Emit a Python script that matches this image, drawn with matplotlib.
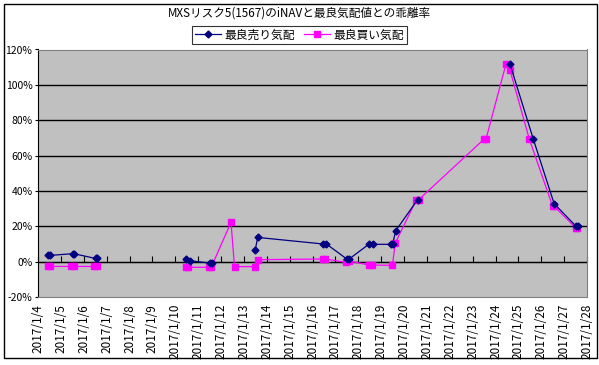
import matplotlib
matplotlib.use("Agg")
import matplotlib.pyplot as plt
import matplotlib.dates as mdates
import numpy as np
import pandas as pd
from matplotlib.patches import Rectangle

plt.rcParams['font.family'] = ['Noto Sans CJK JP', 'DejaVu Sans']

TITLE = "MXSリスク5(1567)のiNAVと最良気配値との乖離率"
SELL_LABEL = "最良売り気配"
BUY_LABEL = "最良買い気配"

# best ask (sell) deviation, %; None = no quote (line break)
sell_times = [
    "2017-01-04 10:50", "2017-01-04 12:20", "2017-01-05 12:20", "2017-01-05 13:40",
    "2017-01-06 12:20", "2017-01-06 13:40", None,
    "2017-01-10 10:50", "2017-01-10 15:30", "2017-01-11 12:00", "2017-01-11 15:00", None,
    "2017-01-13 12:00", "2017-01-13 14:30", "2017-01-16 11:00", "2017-01-16 14:30",
    "2017-01-17 12:00", "2017-01-17 14:30", "2017-01-18 11:00", "2017-01-18 15:00",
    "2017-01-19 10:10", "2017-01-19 12:00", "2017-01-19 15:20", "2017-01-20 14:10", None,
    "2017-01-24 15:10", "2017-01-25 15:40", "2017-01-26 13:30",
    "2017-01-27 12:00", "2017-01-27 14:30",
]
sell_values = [
    3.5, 3.5, 4.5, 4.5,
    1.8, 1.8, None,
    1.7, 0.5, -0.8, -0.8, None,
    6.8, 13.7, 10.0, 10.0,
    1.5, 1.5, 9.8, 9.8,
    9.8, 9.8, 17.5, 35.0, None,
    111.8, 69.3, 32.8,
    20.3, 20.3,
]

# best bid (buy) deviation, %
buy_times = [
    "2017-01-04 10:50", "2017-01-04 13:00", "2017-01-05 10:50", "2017-01-05 13:30",
    "2017-01-06 10:50", "2017-01-06 13:30", None,
    "2017-01-10 10:50", "2017-01-10 13:30", "2017-01-11 11:00", "2017-01-11 13:40",
    "2017-01-12 10:30", "2017-01-12 14:10", "2017-01-13 11:50", "2017-01-13 14:40",
    "2017-01-16 11:00", "2017-01-16 13:30", "2017-01-17 11:30", "2017-01-17 14:00",
    "2017-01-18 11:00", "2017-01-18 14:00", "2017-01-19 11:50", "2017-01-19 14:50",
    "2017-01-20 13:00", "2017-01-20 15:20", "2017-01-23 12:00", "2017-01-23 14:00",
    "2017-01-24 11:00", "2017-01-24 15:10", "2017-01-25 11:30",
    "2017-01-26 12:00", "2017-01-26 13:40", "2017-01-27 12:30", "2017-01-27 14:00",
]
buy_values = [
    -2.7, -2.7, -2.7, -2.7,
    -2.7, -2.7, None,
    -3.2, -3.2, -3.2, -3.2,
    22.2, -2.8, -2.8, 1.1,
    1.5, 1.5, -0.4, 0.4,
    -1.9, -1.9, -2.1, 10.5,
    35.0, 35.0, 69.3, 69.3,
    111.8, 108.4, 69.3,
    31.2, 31.2, 19.0, 19.0,
]

y_ticks = [-20, 0, 20, 40, 60, 80, 100, 120]
x_start, x_end = "2017-01-04", "2017-01-28"


def to_series(times, values):
    x = [mdates.date2num(pd.Timestamp(t).to_pydatetime()) if t else np.nan for t in times]
    y = [np.nan if v is None else v for v in values]
    return np.array(x, dtype=float), np.array(y, dtype=float)


fig = plt.figure(figsize=(5.99, 3.65), dpi=100)
fig.patches.append(Rectangle((4 / 599, 1 - 358 / 365), 593 / 599, 354 / 365,
                             transform=fig.transFigure, fill=False,
                             edgecolor="black", linewidth=1.0))

ax = fig.add_axes([38 / 599, 1 - 297 / 365, 549 / 599, 247.5 / 365])
ax.set_facecolor("#C0C0C0")

for y in y_ticks[1:-1]:
    ax.axhline(y, color="black", linewidth=1.0, zorder=1)

sx, sy = to_series(sell_times, sell_values)
bx, by = to_series(buy_times, buy_values)
ax.plot(sx, sy, color="#000080", linewidth=0.9, marker="D", markersize=3.5,
        label=SELL_LABEL, zorder=3)
ax.plot(bx, by, color="#FF00FF", linewidth=0.9, marker="s", markersize=4.5,
        label=BUY_LABEL, zorder=2)

days = pd.date_range(x_start, x_end, freq="D")
day_nums = [mdates.date2num(d.to_pydatetime()) for d in days]
ax.set_xlim(day_nums[0], day_nums[-1])
ax.set_ylim(-20, 120)
ax.set_yticks(y_ticks)
ax.set_yticklabels([f"{v}%" for v in y_ticks], fontsize=7.5)
ax.set_xticks(day_nums)
ax.set_xticklabels([f"{d.year}/{d.month}/{d.day}" for d in days],
                   rotation=90, fontsize=8.5)
ax.tick_params(axis="x", length=0, pad=5)
ax.tick_params(axis="y", length=2, pad=2)

# tick marks sit on the 0% line, labels stay at the bottom
sec = ax.secondary_xaxis(20 / 140)
sec.set_xticks(day_nums)
sec.tick_params(axis="x", direction="in", length=4, labelbottom=False, color="black")
sec.spines["bottom"].set_color("black")

for side in ["top", "right", "bottom"]:
    ax.spines[side].set_color("#808080")
ax.spines["left"].set_color("black")

fig.text(0.5, 1 - 13 / 365, TITLE, ha="center", va="center", fontsize=8.4)
leg = fig.legend(loc="center", bbox_to_anchor=(0.5, 1 - 35 / 365), ncol=2,
                 fontsize=8.5, frameon=True, fancybox=False, edgecolor="black",
                 handlelength=2.2, columnspacing=0.8, handletextpad=0.3,
                 borderpad=0.2)
leg.get_frame().set_linewidth(0.8)

fig.savefig("out.png", dpi=100)
